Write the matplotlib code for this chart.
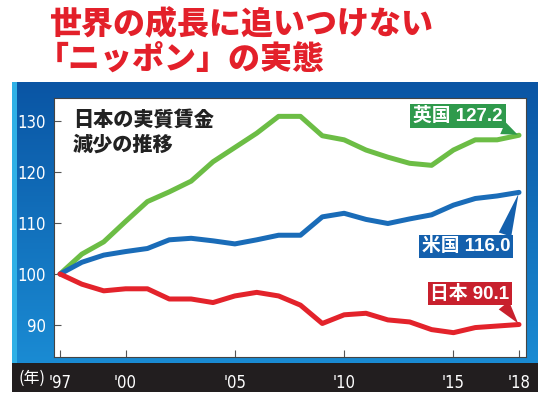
import matplotlib
matplotlib.use("Agg")
import matplotlib.pyplot as plt
import numpy as np
from matplotlib.patches import Rectangle
from matplotlib.colors import LinearSegmentedColormap
from matplotlib import font_manager

plt.rcParams['font.family'] = ['Noto Sans CJK JP', 'DejaVu Sans']

years = list(range(1997, 2019))
uk = [100, 103.9, 106.3, 110.3, 114.2, 116.1, 118.2, 122.0, 124.8, 127.6, 130.9,
      130.9, 127.1, 126.3, 124.3, 122.9, 121.7, 121.3, 124.3, 126.3, 126.3, 127.2]
us = [100, 102.3, 103.7, 104.4, 105.0, 106.7, 107.0, 106.5, 105.9, 106.7, 107.6,
      107.6, 111.2, 111.9, 110.7, 109.9, 110.8, 111.6, 113.5, 114.8, 115.3, 116.0]
jp = [100, 98.0, 96.7, 97.1, 97.1, 95.1, 95.1, 94.4, 95.7, 96.4, 95.7,
      93.9, 90.3, 92.0, 92.3, 91.0, 90.6, 89.1, 88.5, 89.5, 89.8, 90.1]

xticks = [1997, 2000, 2005, 2010, 2015, 2018]
xticklabels = ["'97", "'00", "'05", "'10", "'15", "'18"]
yticks = [90, 100, 110, 120, 130]
yticklabels = ["90", "100", "110", "120", "130"]

title1 = "世界の成長に追いつけない"
title2 = "「ニッポン」の実態"
subtitle = "日本の実質賃金\n減少の推移"
labels = ["英国 127.2", "米国 116.0", "日本 90.1"]

GREEN = '#6cbd45'
BLUE = '#1a6cb8'
RED = '#e3232b'
BOX_GREEN = '#2f9a4c'
BOX_BLUE = '#1460ad'
BOX_RED = '#c8202d'
TITLE_RED = '#e3202a'

try:
    font_manager.findfont(font_manager.FontProperties(family='Liberation Sans Narrow'),
                          fallback_to_default=False)
    NARROW = dict(family=['Liberation Sans Narrow', 'DejaVu Sans'], stretch='normal')
except Exception:
    NARROW = dict(family=['DejaVu Sans'], stretch='condensed')

W, H = 550, 398
fig = plt.figure(figsize=(W / 100, H / 100), dpi=100)
fig.patch.set_facecolor('white')

bg = fig.add_axes([0, 0, 1, 1])
grad = np.linspace(0, 1, 256).reshape(-1, 1)
cmap = LinearSegmentedColormap.from_list('bl', ['#0a55a4', '#1a8bd3'])
bg.imshow(grad, extent=[12, 538, 363, 82], cmap=cmap, aspect='auto', zorder=1)
bg.add_patch(Rectangle((12, 82), 5, 281, color='#2fb0e6', zorder=2, lw=0))
bg.add_patch(Rectangle((12, 363), 526, 29, color='#221e1f', zorder=2, lw=0))
bg.set_xlim(0, W)
bg.set_ylim(H, 0)
bg.axis('off')

tfam = ['Noto Sans CJK JP', 'DejaVu Sans']
bg.text(49, 25, title1, color=TITLE_RED, fontsize=23, fontweight='black',
        ha='left', va='center', family=tfam)
bg.text(37, 59, title2, color=TITLE_RED, fontsize=23, fontweight='black',
        ha='left', va='center', family=tfam)
bg.text(19, 378, "(年)", color='white', fontsize=11.5, ha='left', va='center')

ax = fig.add_axes([54 / W, 41 / H, 472 / W, 259 / H], zorder=5)
ax.set_facecolor('white')
ax.plot(years, uk, color=GREEN, lw=3.6, solid_joinstyle='round', solid_capstyle='round', zorder=3)
ax.plot(years, us, color=BLUE, lw=3.6, solid_joinstyle='round', solid_capstyle='round', zorder=3)
ax.plot(years, jp, color=RED, lw=3.6, solid_joinstyle='round', solid_capstyle='round', zorder=4)

ax.set_xlim(1996.725, 2018.32)
ax.set_ylim(83.73, 134.5)
ax.set_xticks(xticks)
ax.set_xticklabels(xticklabels)
ax.set_yticks(yticks)
ax.set_yticklabels(yticklabels)
ax.tick_params(axis='both', direction='in', length=5, width=0.8, color='#555555',
               labelcolor='white', labelsize=12)
ax.tick_params(axis='y', pad=6)
ax.tick_params(axis='x', pad=12)
for lab in ax.get_xticklabels() + ax.get_yticklabels():
    lab.set_family(NARROW['family'])
    lab.set_stretch(NARROW['stretch'])
for sp in ax.spines.values():
    sp.set_color('#444444')
    sp.set_linewidth(0.8)

ax.text(0.04, 0.95, subtitle, transform=ax.transAxes, fontsize=14.5, fontweight='black',
        color='#222222', ha='left', va='top', linespacing=1.25)

boxfont = ['Liberation Sans', 'Noto Sans CJK JP']
specs = [
    (labels[0], uk[-1], BOX_GREEN, (-61, 19), (0.93, 0.0)),
    (labels[1], us[-1], BOX_BLUE, (-53, -54), (0.93, 1.0)),
    (labels[2], jp[-1], BOX_RED, (-49, 31), (0.9, 0.0)),
]
for text, val, col, off, rp in specs:
    ax.annotate(text, xy=(years[-1], val), xytext=off, textcoords='offset pixels',
                ha='center', va='center', color='white', fontsize=13.5, fontweight='bold',
                family=boxfont, zorder=6,
                bbox=dict(boxstyle='square,pad=0.15', fc=col, ec='none'),
                arrowprops=dict(arrowstyle='wedge,tail_width=0.7,shrink_factor=0.5',
                                fc=col, ec='none', shrinkA=0, shrinkB=1, relpos=rp))

fig.savefig('out.png', dpi=100, facecolor='white')
